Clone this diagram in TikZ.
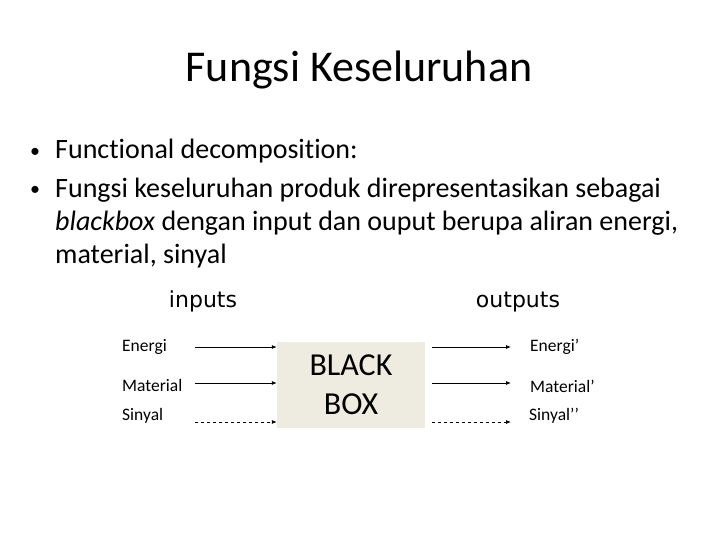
\documentclass[tikz,border=0pt]{standalone}
\usepackage{fontspec}
\setmainfont[Ligatures=NoCommon]{Carlito}
\newfontfamily\handfont{DejaVu Sans}
\usetikzlibrary{arrows.meta}
\tikzset{
  flow/.style={thick, -{Latex[length=5pt,width=4pt]}},
  sigflow/.style={flow, dashed},
  lbl/.style={font=\fontsize{17.5}{20}\selectfont, anchor=base west, inner sep=0pt},
  bul/.style={anchor=base west, font=\fontsize{20}{24}\selectfont, inner sep=0pt},
}
\begin{document}
\begin{tikzpicture}[x=1pt,y=-1pt]
  \useasboundingbox (0,0) rectangle (720,540);
  % title and bullets
  \node[anchor=base, font=\fontsize{44}{52}\selectfont] (title) at (359,82) {Fungsi Keseluruhan};
  \node[bul] (b1) at (30,158) {\textbullet};
  \node[anchor=base west, font=\fontsize{28}{33}\selectfont, inner sep=0pt] (t1) at (55,159) {Functional decomposition:};
  \node[bul] (b2) at (30,196) {\textbullet};
  \node[anchor=north west, font=\fontsize{28}{33}\selectfont, inner sep=0pt, align=left] (t2) at (55,178)
    {Fungsi keseluruhan produk direpresentasikan sebagai\\
     \textit{blackbox} dengan input dan ouput berupa aliran energi,\\
     material, sinyal};
  % black box
  \begin{scope}
    \node[fill={rgb,255:red,238;green,236;blue,225}, minimum width=148pt, minimum height=86pt,
      align=center, font=\fontsize{32}{39}\selectfont] (box) at (351,385) {BLACK\\BOX};
    \node[anchor=base, font=\handfont\fontsize{22}{26}\selectfont] (in) at (203,307) {inputs};
    \node[anchor=base, font=\handfont\fontsize{22}{26}\selectfont] (out) at (518,307) {outputs};
    % inputs
    \node[lbl] (ein) at (122,351) {Energi};
    \node[lbl] (min) at (122,391) {Material};
    \node[lbl] (sin) at (122,420) {Sinyal};
    \coordinate (e0) at (195,347);
    \coordinate (m0) at (195,383);
    \coordinate (s0) at (195,422);
    \draw[flow] (e0) -- (e0 -| box.west);
    \draw[flow] (m0) -- (m0 -| box.west);
    \draw[sigflow] (s0) -- (s0 -| box.west);
    % outputs
    \node[lbl] (eout) at (530,351) {Energi’};
    \node[lbl] (mout) at (530,392) {Material’};
    \node[lbl] (sout) at (529,420) {Sinyal’’};
    \coordinate (e1) at (511,347);
    \coordinate (m1) at (511,383);
    \coordinate (s1) at (511,422);
    \draw[flow] (e1 -| 432,0) -- (e1);
    \draw[flow] (m1 -| 432,0) -- (m1);
    \draw[sigflow] (s1 -| 432,0) -- (s1);
  \end{scope}
\end{tikzpicture}
\end{document}
